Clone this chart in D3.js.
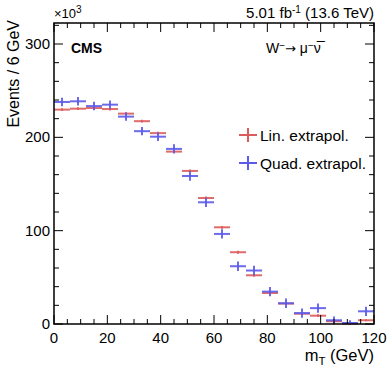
<!DOCTYPE html>
<html lang="en">
<head>
    <meta charset="UTF-8">
    <title>mT extrapolation</title>
    <style>
        body { margin: 0; background: white; }
        svg text { font-family: "Liberation Sans", Arial, sans-serif; fill: black; }
    </style>
    <script src="https://d3js.org/d3.v7.min.js"></script>
</head>
<body>
    <div id="chart"></div>
    <script>
        // bin lower edges in GeV, 6 GeV wide
        const binEdges = [0, 6, 12, 18, 24, 30, 36, 42, 48, 54, 60, 66, 72, 78, 84, 90, 96, 102, 108, 114];
        const binWidth = 6;

        // events in units of 10^3
        const linValues = [229.7, 230.7, 231.4, 230.3, 225.4, 217.3, 204.5, 184.7, 164.0, 135.0,
                           103.6, 76.9, 52.2, 33.2, 21.9, 11.0, 8.9, 2.9, 0.4, 4.0];
        const linErrors = [1.5, 1.5, 1.5, 1.5, 1.5, 1.5, 1.5, 1.5, 1.5, 1.5,
                           1.5, 1.5, 1.5, 1.5, 1.5, 1.5, 1.5, 1.5, 1.0, 1.0];
        const quadValues = [237.9, 238.6, 233.5, 235.0, 222.2, 206.6, 200.7, 187.6, 158.6, 130.4,
                            96.5, 61.9, 57.3, 34.7, 22.2, 11.7, 17.0, 4.0, 1.1, 13.6];
        const quadErrors = [4.5, 4.5, 4.5, 4.5, 4.5, 4.5, 4.5, 5, 5, 5,
                            5, 5, 5, 5, 5, 5, 5, 4, 3, 5];

        const xTicks = [0, 20, 40, 60, 80, 100, 120];
        const yTicks = [0, 100, 200, 300];

        const series = [
            { name: 'Lin. extrapol.', color: '#dc5b5b', values: linValues, errors: linErrors },
            { name: 'Quad. extrapol.', color: '#5b5bea', values: quadValues, errors: quadErrors }
        ];

        const width = 389, height = 373;
        const margin = { top: 23, right: 15, bottom: 49, left: 54 };
        const innerW = width - margin.left - margin.right;
        const innerH = height - margin.top - margin.bottom;

        const svg = d3.select('#chart').append('svg')
            .attr('width', width)
            .attr('height', height);

        const x = d3.scaleLinear().domain([0, 120]).range([margin.left, margin.left + innerW]);
        const y = d3.scaleLinear().domain([0, 322.5]).range([margin.top + innerH, margin.top]);

        // data crosses
        series.forEach(s => {
            const g = svg.append('g')
                .attr('stroke', s.color)
                .attr('stroke-width', 2)
                .attr('stroke-opacity', 0.9);
            g.selectAll('line.h')
                .data(binEdges)
                .join('line')
                .attr('class', 'h')
                .attr('x1', d => x(d))
                .attr('x2', d => x(d + binWidth))
                .attr('y1', (d, i) => y(s.values[i]))
                .attr('y2', (d, i) => y(s.values[i]));
            g.selectAll('line.v')
                .data(binEdges)
                .join('line')
                .attr('class', 'v')
                .attr('x1', d => x(d + binWidth / 2))
                .attr('x2', d => x(d + binWidth / 2))
                .attr('y1', (d, i) => y(Math.max(0, s.values[i] - s.errors[i])))
                .attr('y2', (d, i) => y(s.values[i] + s.errors[i]));
        });

        // frame
        svg.append('rect')
            .attr('x', margin.left)
            .attr('y', margin.top)
            .attr('width', innerW)
            .attr('height', innerH)
            .attr('fill', 'none')
            .attr('stroke', 'black')
            .attr('stroke-width', 1.5);

        const ax = svg.append('g').attr('stroke', 'black').attr('stroke-width', 1);
        const yBottom = margin.top + innerH, yTop = margin.top;
        const xLeft = margin.left, xRight = margin.left + innerW;

        // x ticks (major every 20, minor every 5), bottom and top
        d3.range(0, 121, 5).forEach(v => {
            const len = v % 20 === 0 ? 9 : 5;
            ax.append('line').attr('x1', x(v)).attr('x2', x(v)).attr('y1', yBottom).attr('y2', yBottom - len);
            ax.append('line').attr('x1', x(v)).attr('x2', x(v)).attr('y1', yTop).attr('y2', yTop + len);
        });
        // y ticks (major every 100, minor every 20), left and right
        d3.range(0, 321, 20).forEach(v => {
            const len = v % 100 === 0 ? 9 : 5;
            ax.append('line').attr('y1', y(v)).attr('y2', y(v)).attr('x1', xLeft).attr('x2', xLeft + len);
            ax.append('line').attr('y1', y(v)).attr('y2', y(v)).attr('x1', xRight).attr('x2', xRight - len);
        });

        svg.append('g').selectAll('text')
            .data(xTicks)
            .join('text')
            .attr('x', d => x(d))
            .attr('y', yBottom + 19)
            .attr('text-anchor', 'middle')
            .attr('font-size', 15)
            .text(d => d);

        svg.append('g').selectAll('text')
            .data(yTicks)
            .join('text')
            .attr('x', xLeft - 4)
            .attr('y', d => y(d) + 5)
            .attr('text-anchor', 'end')
            .attr('font-size', 15)
            .text(d => d);

        // axis titles
        const xt = svg.append('text')
            .attr('x', xRight)
            .attr('y', 361)
            .attr('text-anchor', 'end')
            .attr('font-size', 16.5);
        xt.append('tspan').text('m');
        xt.append('tspan').attr('font-size', 11.5).attr('dy', 4).text('T');
        xt.append('tspan').attr('dy', -4).text(' (GeV)');

        svg.append('text')
            .attr('transform', `translate(19, ${yTop - 3}) rotate(-90)`)
            .attr('text-anchor', 'end')
            .attr('font-size', 16)
            .text('Events / 6 GeV');

        // exponent
        const ex = svg.append('text')
            .attr('x', xLeft)
            .attr('y', 18)
            .attr('font-size', 13);
        ex.append('tspan').text('×10');
        ex.append('tspan').attr('dy', -5).attr('font-size', 10).text('3');

        // lumi label
        const lumi = svg.append('text')
            .attr('x', xRight)
            .attr('y', 18)
            .attr('text-anchor', 'end')
            .attr('font-size', 15);
        lumi.append('tspan').text('5.01 fb');
        lumi.append('tspan').attr('dy', -5).attr('font-size', 10).text('-1');
        lumi.append('tspan').attr('dy', 5).text(' (13.6 TeV)');

        svg.append('text')
            .attr('x', 71)
            .attr('y', 53)
            .attr('font-size', 14)
            .attr('font-weight', 'bold')
            .text('CMS');

        const proc = svg.append('text')
            .attr('x', 266)
            .attr('y', 53)
            .attr('font-size', 14);
        proc.append('tspan').text('W');
        proc.append('tspan').attr('dy', -4).attr('font-size', 10).text('−');
        proc.append('tspan').attr('dy', 4).style('font-family', '"DejaVu Sans"').attr('font-size', 13).text('→');
        proc.append('tspan').text(' μ');
        proc.append('tspan').attr('dy', -4).attr('font-size', 10).text('−');
        proc.append('tspan').attr('dy', 4).text('ν\u0305');

        // legend
        const legY = [135, 163];
        series.forEach((s, i) => {
            const g = svg.append('g').attr('transform', `translate(248, ${legY[i]})`);
            g.append('line').attr('x1', -9).attr('x2', 9).attr('y1', 0).attr('y2', 0)
                .attr('stroke', s.color).attr('stroke-width', 2);
            g.append('line').attr('x1', 0).attr('x2', 0).attr('y1', -7).attr('y2', 7)
                .attr('stroke', s.color).attr('stroke-width', 2);
            g.append('text')
                .attr('x', 12)
                .attr('y', 6)
                .attr('font-size', 15.5)
                .text(s.name);
        });
    </script>
</body>
</html>
